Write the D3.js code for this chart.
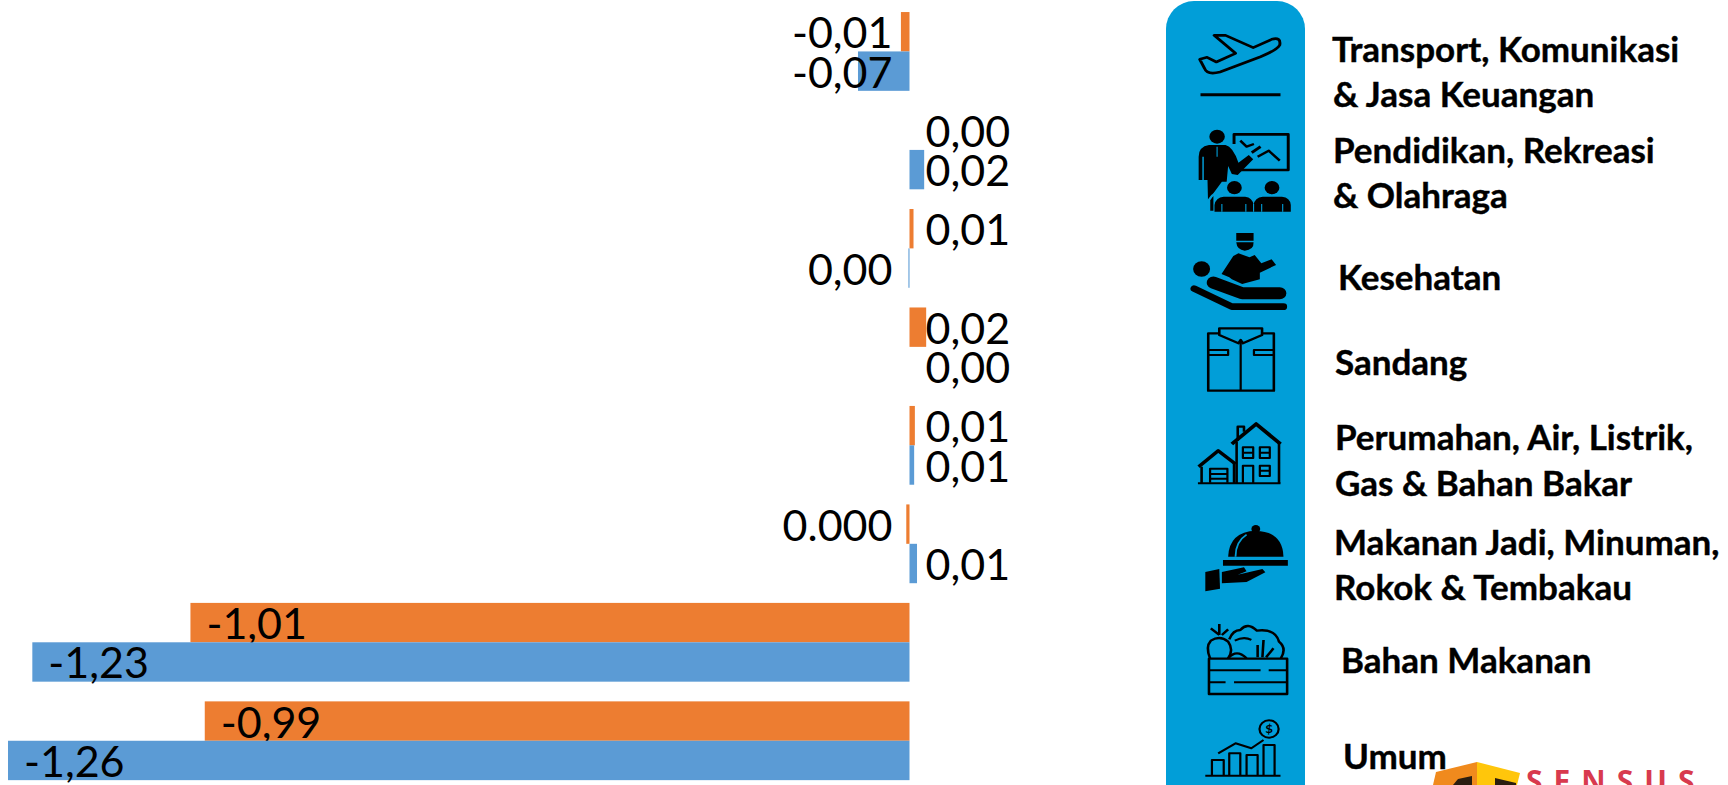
<!DOCTYPE html>
<html>
<head>
<meta charset="utf-8">
<script src="https://cdnjs.cloudflare.com/ajax/libs/d3/7.8.5/d3.min.js"></script>
<style>
    html, body { margin: 0; padding: 0; background: #fff; overflow: hidden; }
    .value { font-family: Lato, sans-serif; font-size: 43px; fill: #000; }
    .legendText { font-family: Lato, sans-serif; font-weight: 700; font-size: 35px; fill: #000; stroke: #000; stroke-width: 0.4px; }
</style>
</head>
<body>
<div id="chart"></div>
<script>
    // groups, top to bottom
    const categories = ["Transport", "Pendidikan", "Kesehatan", "Sandang", "Perumahan", "Makanan Jadi", "Bahan Makanan", "Umum"];

    // bar lengths
    const orangeValues = [-0.012, 0, 0.0056, 0.0233, 0.0075, -0.0045, -1.005, -0.985];
    const blueValues = [-0.072, 0.0205, -0.0015, 0, 0.0065, 0.0105, -1.226, -1.26];

    // the labels as printed on the chart
    const orangeLabels = ["-0,01", "0,00", "0,01", "0,02", "0,01", "0.000", "-1,01", "-0,99"];
    const blueLabels = ["-0,07", "0,02", "0,00", "0,00", "0,01", "0,01", "-1,23", "-1,26"];

    const legendLines = ["Transport, Komunikasi", "& Jasa Keuangan", "Pendidikan, Rekreasi", "& Olahraga", "Kesehatan", "Sandang",
        "Perumahan, Air, Listrik,", "Gas & Bahan Bakar", "Makanan Jadi, Minuman,", "Rokok & Tembakau", "Bahan Makanan", "Umum"];
    const legendX = [1332, 1333, 1333, 1333, 1338, 1335, 1335, 1335, 1334, 1334, 1341, 1343];
    const legendY = [62, 107, 163, 208, 290, 375, 450, 496, 555, 600, 673, 769];

    const orange = "#ED7D31", blue = "#5B9BD5", panel = "#019ED8";

    const svg = d3.select("#chart")
        .append("svg")
        .attr("width", 1728)
        .attr("height", 785)
        .style("display", "block");

    const x = d3.scaleLinear()
        .domain([-1.26, 0])
        .range([8, 909.5]);

    const y = d3.scaleBand()
        .domain(categories)
        .range([2.2, 790])
        .paddingInner(0.2)
        .paddingOuter(0.1);

    const barH = y.bandwidth() / 2;

    // one series = bars + labels, offset is 0 for orange and one bar down for blue
    function drawSeries(values, labels, color, offset){
        const rows = categories.map((c, i) => ({c: c, v: values[i], label: labels[i]}));

        svg.selectAll(".bar" + color.slice(1))
            .data(rows)
            .join("rect")
            .attr("class", "bar" + color.slice(1))
            .attr("x", d => Math.min(x(d.v), x(0)))
            .attr("y", d => y(d.c) + offset)
            .attr("width", d => Math.abs(x(d.v) - x(0)))
            .attr("height", barH)
            .attr("fill", color);

        svg.selectAll(".label" + color.slice(1))
            .data(rows)
            .join("text")
            .attr("class", "value label" + color.slice(1))
            .attr("x", d => {
                if (d.v < -0.5) return x(d.v) + 16;
                return d.v < 0 ? x(0) - 17 : x(0) + 16;
            })
            .attr("y", d => y(d.c) + offset + barH / 2 + 16.5)
            .attr("text-anchor", d => (d.v < 0 && d.v >= -0.5) ? "end" : "start")
            .text(d => d.label);
    }

    // side panel sits under the labels
    svg.append("path")
        .attr("d", "M1166,800 V29 A28,28 0 0 1 1194,1 H1277 A28,28 0 0 1 1305,29 V800 Z")
        .attr("fill", panel);

    drawSeries(orangeValues, orangeLabels, orange, 0);
    drawSeries(blueValues, blueLabels, blue, barH);

    // logo, cut off by the bottom of the picture
    const logo = svg.append("g");
    logo.append("path").attr("d", "M1433,785 L1436,772 L1477,762 L1477,785 Z").attr("fill", "#F08A1D");
    logo.append("path").attr("d", "M1477,762 L1520,773 L1517,785 L1477,785 Z").attr("fill", "#FFC60B");
    logo.append("path").attr("d", "M1453,785 L1458,779 L1472,776 L1472,785 Z").attr("fill", "#2a1d10");
    logo.append("path").attr("d", "M1495,785 L1495,778 L1516,783 L1516,785 Z").attr("fill", "#2a1d10");
    logo.append("text")
        .attr("x", 1526)
        .attr("y", 792)
        .attr("font-family", "Open Sans, sans-serif")
        .attr("font-weight", 700)
        .attr("font-size", 30)
        .attr("letter-spacing", 11)
        .attr("fill", "#D83A4E")
        .text("SENSUS");

    svg.selectAll(".legendText")
        .data(legendLines)
        .join("text")
        .attr("class", "legendText")
        .attr("x", (d, i) => legendX[i])
        .attr("y", (d, i) => legendY[i])
        .text(d => d);

    const top3 = svg.append("g").attr("transform", "translate(1150,0) scale(0.3686,0.3333)");
    const low3 = svg.append("g").attr("transform", "translate(1150,400) scale(0.3686,0.3333)");

    function line(g, d, w){
        return g.append("path").attr("d", d).attr("fill", "none").attr("stroke", "#000")
            .attr("stroke-width", w).attr("stroke-linejoin", "round");
    }
    function solid(g, d){
        return g.append("path").attr("d", d).attr("fill", "#000");
    }

    // plane
    line(top3, "M174,106 L205,106 L280,143 L330,118 Q356,110 352,135 Q345,150 300,170 L190,216 Q155,226 148,205 L135,178 L155,172 L180,186 L232,160 Z", 8);
    line(top3, "M137,284 H354", 9);

    // teacher and pupils
    top3.append("ellipse").attr("cx", 182).attr("cy", 410).attr("rx", 21).attr("ry", 21);
    solid(top3, "M132,470 Q132,440 160,435 L205,435 Q225,440 240,488 L268,465 L280,478 L238,525 L222,522 L212,498 L208,545 L195,545 L172,580 L172,632 L158,632 L156,540 L146,540 L146,470 L142,470 L142,540 L132,540 Z");
    top3.append("path").attr("d", "M182,440 V470").attr("stroke", panel).attr("stroke-width", 3);
    line(top3, "M228,432 V403 H375 V510 H240", 8);
    line(top3, "M245,422 L262,440 L282,432", 7);
    line(top3, "M276,458 L300,440", 8);
    line(top3, "M292,470 L322,452 L352,482", 7);
    top3.append("path").attr("d", "M160,640 V600 Q175,572 205,572").attr("fill", "none").attr("stroke", panel).attr("stroke-width", 7);
    top3.append("ellipse").attr("cx", 229).attr("cy", 563).attr("rx", 20).attr("ry", 20);
    top3.append("ellipse").attr("cx", 331).attr("cy", 563).attr("rx", 20).attr("ry", 20);
    solid(top3, "M175,635 V615 Q178,592 200,590 H258 Q278,592 281,615 Q284,592 306,590 H358 Q380,592 382,615 V635 Z");
    line(top3, "M281,612 V635", 3).attr("stroke", panel);
    line(top3, "M195,612 V635 M260,612 V635 M303,612 V635 M360,612 V635", 3).attr("stroke", panel);

    // nurse and patient
    top3.append("ellipse").attr("cx", 140).attr("cy", 807).attr("rx", 23).attr("ry", 23);
    solid(top3, "M234,699 H281 V722 H234 Z M234,727 H281 Q282,750 257,752 Q236,750 234,727 Z");
    solid(top3, "M194,822 L226,768 L240,760 L270,772 L284,765 L302,790 L330,778 L342,795 L298,818 L298,838 L250,852 L222,838 L215,832 Z");
    line(top3, "M172,848 L250,880 H352", 36).attr("stroke-linecap", "round");
    line(top3, "M120,866 L222,920 H362", 20).attr("stroke-linecap", "round");

    // shirt
    line(top3, "M188,1000 H158 V1172 H336 V1000 H305", 7);
    line(top3, "M188,985 H304 V1005 L252,1030 L246,1020 L240,1030 L188,1005 Z", 7);
    line(top3, "M246,1025 V1172 M160,1050 H212 V1065 H160 M334,1050 H282 V1065 H334", 6);

    // houses
    line(low3, "M222,132 L288,72 L354,132", 11);
    line(low3, "M238,122 V80 H255 V95", 7);
    line(low3, "M235,125 V250 M350,125 V250", 7);
    line(low3, "M132,200 L185,152 L232,192", 10);
    line(low3, "M140,200 V250 M228,190 V250", 7);
    line(low3, "M130,250 H354", 6);
    line(low3, "M163,248 V206 H210 V248 M163,222 H210 M163,236 H210", 6);
    line(low3, "M252,142 H280 V174 H252 Z M252,158 H280 M298,142 H325 V174 H298 Z M298,158 H325", 6);
    line(low3, "M252,250 V197 H280 V250 M298,197 H325 V228 H298 Z M298,212 H325", 6);

    // food under a cover
    low3.append("ellipse").attr("cx", 287).attr("cy", 387).attr("rx", 12).attr("ry", 12);
    solid(low3, "M212,470 Q215,395 287,392 Q360,395 362,470 Z");
    line(low3, "M232,470 Q232,425 262,404", 5).attr("stroke", panel);
    solid(low3, "M198,480 H374 V497 H198 Z");
    solid(low3, "M150,516 L188,507 L190,566 L150,574 Z");
    solid(low3, "M195,516 L255,502 L262,514 L238,524 L305,507 L313,517 L262,546 L195,550 Z");

    // crate of vegetables
    line(low3, "M160,776 H372 V882 H160 Z", 7);
    line(low3, "M160,811 H300 M322,811 H372 M160,847 H205 M228,847 H372", 6);
    line(low3, "M163,775 Q150,740 165,722 Q190,705 212,725 Q228,750 212,775", 7);
    line(low3, "M188,705 V672 M188,705 L165,685 M195,705 L212,688", 7);
    line(low3, "M215,718 Q225,690 245,690 Q265,665 290,692 Q340,685 350,725 Q372,745 355,775", 7);
    line(low3, "M212,775 Q235,745 262,775 M292,772 L292,735 M305,772 L308,720 M315,772 L335,745", 7);
    line(low3, "M230,722 Q255,708 275,720", 6);

    // price chart
    low3.append("ellipse").attr("cx", 323).attr("cy", 987).attr("rx", 26).attr("ry", 26)
        .attr("fill", "none").attr("stroke", "#000").attr("stroke-width", 6);
    low3.append("text").attr("x", 323).attr("y", 1000).attr("text-anchor", "middle")
        .attr("font-family", "Lato, sans-serif").attr("font-weight", 700).attr("font-size", 36).text("$");
    line(low3, "M168,1125 V1080 H200 V1125 M215,1125 V1060 H245 V1125 M262,1125 V1065 H292 V1125 M308,1125 V1035 H338 V1125", 6);
    line(low3, "M150,1127 H354", 6);
    line(low3, "M185,1060 L232,1030 L275,1045 L308,1020", 6);
</script>
</body>
</html>
